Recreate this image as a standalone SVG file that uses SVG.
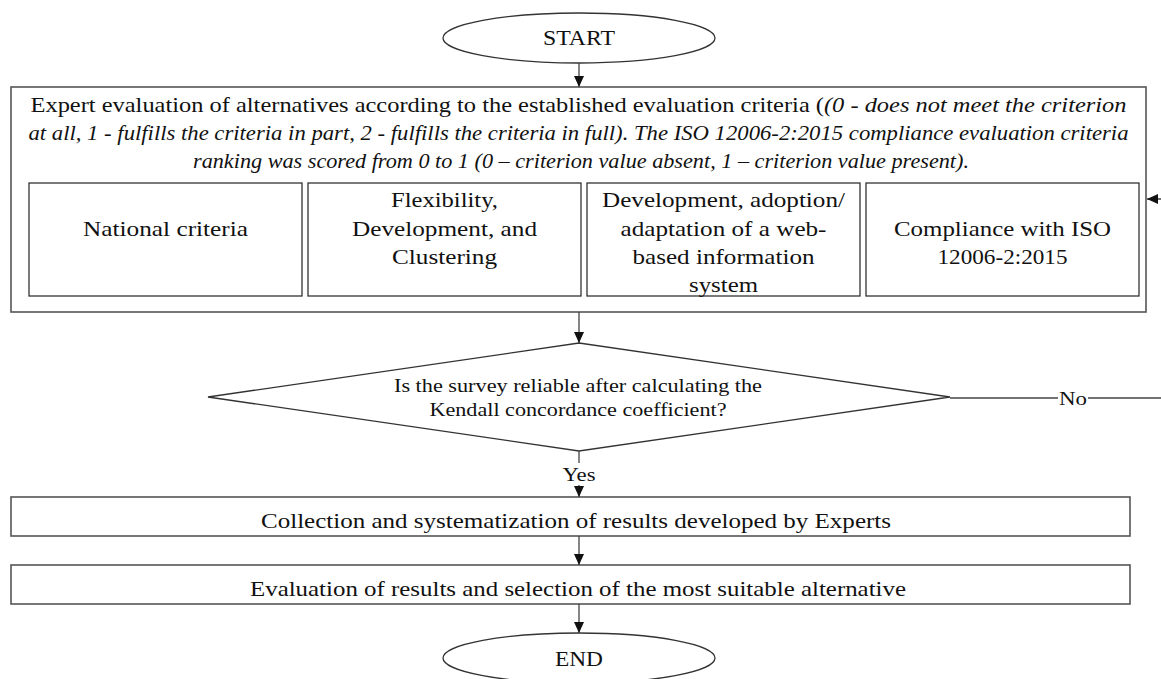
<svg xmlns="http://www.w3.org/2000/svg" width="1161" height="679" viewBox="0 0 1161 679">
<defs>
<style>
text{font-family:"Liberation Serif","Times New Roman",serif;font-size:21px;fill:#111;text-anchor:middle}
.it{font-style:italic}
.sm{font-size:19.5px}
.box{fill:#fff;stroke:#333;stroke-width:1.3}
.outer{fill:#fff;stroke:#555;stroke-width:1.6}
.ln{fill:none;stroke:#444;stroke-width:1.3}
</style>
<marker id="ah" markerUnits="userSpaceOnUse" markerWidth="11" markerHeight="10" refX="11" refY="5" orient="auto">
<path d="M0,0 L11,5 L0,10 z" fill="#111"/>
</marker>
</defs>
<rect width="1161" height="679" fill="#fff"/>

<g id="start">
<ellipse cx="579" cy="38" rx="136" ry="25" class="box"/>
<text x="579" y="45" textLength="72" lengthAdjust="spacingAndGlyphs">START</text>
</g>

<g id="expert-evaluation">
<rect x="11" y="87" width="1135" height="225" class="outer"/>
<text x="578.5" y="112" textLength="1096" lengthAdjust="spacingAndGlyphs">Expert evaluation of alternatives according to the established evaluation criteria (<tspan class="it">(0 - does not meet the criterion</tspan></text>
<text x="578.5" y="140" class="it" textLength="1100" lengthAdjust="spacingAndGlyphs">at all, 1 - fulfills the criteria in part, 2 - fulfills the criteria in full). The ISO 12006-2:2015 compliance evaluation criteria</text>
<text x="581" y="168" class="it" textLength="776" lengthAdjust="spacingAndGlyphs">ranking was scored from 0 to 1 (0 – criterion value absent, 1 – criterion value present).</text>
</g>

<g id="national-criteria">
<rect x="29" y="183" width="273" height="113" class="box"/>
<text x="165.5" y="236" textLength="165" lengthAdjust="spacingAndGlyphs">National criteria</text>
</g>

<g id="flexibility">
<rect x="308" y="183" width="273" height="113" class="box"/>
<text x="444.5" y="207" textLength="107" lengthAdjust="spacingAndGlyphs">Flexibility,</text>
<text x="444.5" y="236" textLength="185" lengthAdjust="spacingAndGlyphs">Development, and</text>
<text x="444.5" y="264" textLength="105" lengthAdjust="spacingAndGlyphs">Clustering</text>
</g>

<g id="web-system">
<rect x="587" y="183" width="273" height="113" class="box"/>
<text x="723.5" y="207" textLength="243" lengthAdjust="spacingAndGlyphs">Development, adoption/</text>
<text x="723.5" y="236" textLength="206" lengthAdjust="spacingAndGlyphs">adaptation of a web-</text>
<text x="723.5" y="264" textLength="182" lengthAdjust="spacingAndGlyphs">based information</text>
<text x="723.5" y="292" textLength="69" lengthAdjust="spacingAndGlyphs">system</text>
</g>

<g id="iso-compliance">
<rect x="866" y="183" width="273" height="113" class="box"/>
<text x="1002.5" y="236" textLength="217" lengthAdjust="spacingAndGlyphs">Compliance with ISO</text>
<text x="1002.5" y="264" textLength="130" lengthAdjust="spacingAndGlyphs">12006-2:2015</text>
</g>

<g id="reliability-decision">
<polygon points="579,343 950,397 579,451 208,397" class="box"/>
<text x="578" y="392" class="sm" textLength="368" lengthAdjust="spacingAndGlyphs">Is the survey reliable after calculating the</text>
<text x="578" y="416" class="sm" textLength="297" lengthAdjust="spacingAndGlyphs">Kendall concordance coefficient?</text>
</g>

<g id="collection">
<rect x="11" y="497" width="1119" height="39" class="outer"/>
<text x="576" y="528" textLength="630" lengthAdjust="spacingAndGlyphs">Collection and systematization of results developed by Experts</text>
</g>

<g id="evaluation">
<rect x="11" y="565" width="1119" height="39" class="outer"/>
<text x="578" y="596" textLength="656" lengthAdjust="spacingAndGlyphs">Evaluation of results and selection of the most suitable alternative</text>
</g>

<g id="end">
<ellipse cx="579" cy="658" rx="136" ry="25" class="box"/>
<text x="579" y="666" textLength="48" lengthAdjust="spacingAndGlyphs">END</text>
</g>

<g id="connectors">
<path d="M579,63 V87" class="ln" marker-end="url(#ah)"/>
<path d="M579,312 V343" class="ln" marker-end="url(#ah)"/>
<path d="M579,451 V463" class="ln"/>
<path d="M579,485 V497" class="ln" marker-end="url(#ah)"/>
<text x="579" y="481" class="sm" textLength="33" lengthAdjust="spacingAndGlyphs">Yes</text>
<path d="M579,536 V565" class="ln" marker-end="url(#ah)"/>
<path d="M579,604 V633" class="ln" marker-end="url(#ah)"/>
<path d="M950,398 H1058" class="ln"/>
<text x="1073" y="405" class="sm" textLength="28" lengthAdjust="spacingAndGlyphs">No</text>
<path d="M1088,398 H1175 V199 H1147" class="ln" marker-end="url(#ah)"/>
</g>
</svg>
